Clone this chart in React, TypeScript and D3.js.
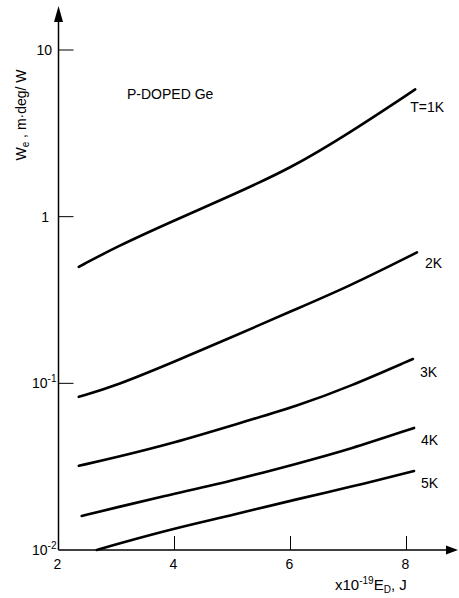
import * as d3 from 'd3';

const WIDTH = 459;
const HEIGHT = 598;

// Donor ionization energy (x10^-19 J)
const energy1K = [2.35, 3, 4, 5, 6, 7, 8.15];
const values1K = [0.5, 0.66, 0.95, 1.35, 1.95, 3.15, 5.8];

const energy2K = [2.35, 3, 4, 5, 6, 7, 8.18];
const values2K = [0.083, 0.097, 0.135, 0.19, 0.27, 0.38, 0.61];

const energy3K = [2.35, 3, 4, 5, 6.16, 7, 8.11];
const values3K = [0.032, 0.036, 0.044, 0.056, 0.074, 0.095, 0.14];

const energy4K = [2.4, 3, 3.75, 5, 6.16, 7, 8.13];
const values4K = [0.016, 0.018, 0.0208, 0.026, 0.0333, 0.04, 0.054];

const energy5K = [2.66, 3, 4, 5, 6.16, 7, 8.13];
const values5K = [0.01, 0.01084, 0.0135, 0.0162, 0.0204, 0.0237, 0.0298];

const seriesLabels = ['T=1K', '2K', '3K', '4K', '5K'];
const xTicks = [2, 4, 6, 8];
const yTicks = [10, 1, 0.1, 0.01];

const FONT = '"Liberation Sans", Arial, sans-serif';

const series = [
  { energy: energy1K, values: values1K },
  { energy: energy2K, values: values2K },
  { energy: energy3K, values: values3K },
  { energy: energy4K, values: values4K },
  { energy: energy5K, values: values5K },
];

// label offsets from each curve's last point
const labelOffsets = [
  { dx: -5, dy: 23 },
  { dx: 8, dy: 16 },
  { dx: 7, dy: 18 },
  { dx: 7, dy: 17 },
  { dx: 7, dy: 17 },
];

export default function App() {
  const x = d3.scaleLinear().domain([2, 8]).range([58.5, 406.5]);
  const y = d3.scaleLog().domain([0.01, 10]).range([550, 50]);

  const line = d3
    .line<[number, number]>()
    .x((d) => x(d[0]))
    .y((d) => y(d[1]))
    .curve(d3.curveBasis);

  const x0 = x(2);
  const y0 = y(0.01);

  const yTickLabel = (v: number) => {
    if (v === 10) return <tspan>10</tspan>;
    if (v === 1) return <tspan>1</tspan>;
    const exp = Math.round(Math.log10(v));
    return (
      <>
        <tspan>10</tspan>
        <tspan dy={-6} fontSize={10}>
          {exp}
        </tspan>
      </>
    );
  };

  return (
    <svg
      width={WIDTH}
      height={HEIGHT}
      viewBox={`0 0 ${WIDTH} ${HEIGHT}`}
      style={{ position: 'absolute', left: 0, top: 0, background: '#fff' }}
      fontFamily={FONT}
    >
      <rect width={WIDTH} height={HEIGHT} fill="#fff" />

      {/* axes */}
      <line x1={x0} y1={y0} x2={x0} y2={20} stroke="#000" strokeWidth={1.5} />
      <path d={`M${x0},6 L${x0 - 4.5},22 L${x0 + 4.5},22 Z`} fill="#000" />
      <line x1={x0} y1={y0} x2={448} y2={y0} stroke="#000" strokeWidth={1.5} />
      <path d={`M458,${y0} L446,${y0 - 4.5} L446,${y0 + 4.5} Z`} fill="#000" />

      {/* y ticks */}
      {yTicks.map((v) => (
        <g key={`yt${v}`}>
          {v !== 0.01 && (
            <line x1={x0} x2={x0 + 15} y1={y(v)} y2={y(v)} stroke="#000" strokeWidth={1} />
          )}
          <text
            x={v === 1 ? 49 : v === 10 ? 52 : 32}
            y={y(v) + 5}
            fontSize={14}
            textAnchor={v === 1 || v === 10 ? 'end' : 'start'}
          >
            {yTickLabel(v)}
          </text>
        </g>
      ))}

      {/* x ticks */}
      {xTicks.map((v) => (
        <g key={`xt${v}`}>
          {v !== 2 && (
            <line x1={x(v)} x2={x(v)} y1={y0} y2={y0 - 14} stroke="#000" strokeWidth={1} />
          )}
          <text x={x(v) - 1} y={y0 + 19} fontSize={14} textAnchor="middle">
            {v}
          </text>
        </g>
      ))}

      {/* x axis title */}
      <text x={335} y={590} fontSize={15}>
        <tspan>x10</tspan>
        <tspan dy={-6} fontSize={10}>
          -19
        </tspan>
        <tspan dy={6}>E</tspan>
        <tspan dy={3} fontSize={10}>
          D
        </tspan>
        <tspan dy={-3}>, J</tspan>
      </text>

      {/* y axis title */}
      <text transform="translate(26,115) rotate(-90)" fontSize={14} textAnchor="middle">
        <tspan>W</tspan>
        <tspan dy={3} fontSize={10}>
          e
        </tspan>
        <tspan dy={-3}> , m·deg/ W</tspan>
      </text>

      <text x={127} y={99} fontSize={14}>
        P-DOPED Ge
      </text>

      {/* curves */}
      {series.map((s, i) => {
        const pts = s.energy.map((e, j) => [e, s.values[j]] as [number, number]);
        const last = pts[pts.length - 1];
        return (
          <g key={seriesLabels[i]}>
            <path
              d={line(pts) ?? ''}
              fill="none"
              stroke="#000"
              strokeWidth={2.6}
              strokeLinecap="round"
            />
            <text
              x={x(last[0]) + labelOffsets[i].dx}
              y={y(last[1]) + labelOffsets[i].dy}
              fontSize={14}
            >
              {seriesLabels[i]}
            </text>
          </g>
        );
      })}
    </svg>
  );
}
